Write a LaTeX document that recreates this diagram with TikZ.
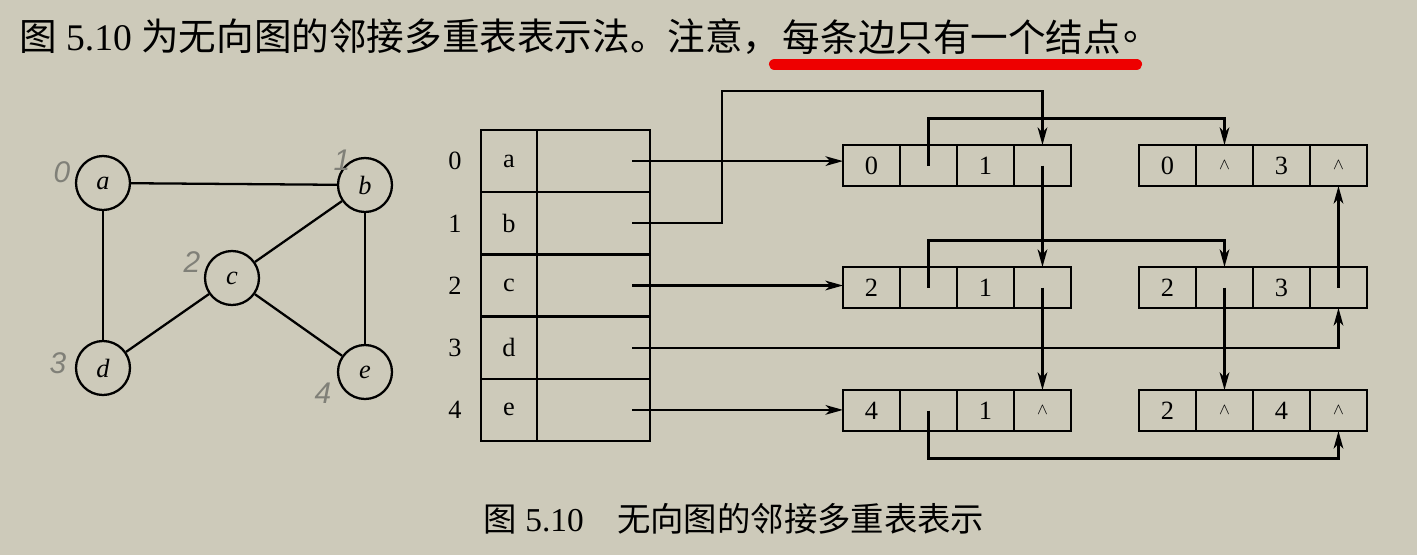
\documentclass[tikz,border=0pt]{standalone}
\usepackage{fontspec}
\setmainfont{Liberation Serif}
\newfontfamily\cjk{Noto Sans CJK SC}
\newfontfamily\hand{Liberation Sans}
\usetikzlibrary{arrows.meta,positioning}

\definecolor{paper}{RGB}{205,202,186}
\definecolor{pencil}{RGB}{128,128,120}
\definecolor{marker}{RGB}{238,0,0}
\newcommand\nullmark{{\small$\wedge$}}

\begin{document}
\begin{tikzpicture}[x=0.02cm,y=-0.02cm,line width=1.3pt,
  vertex/.style={draw,circle,minimum size=1.08cm,inner sep=0pt,font=\fontsize{15}{15}\selectfont\itshape},
  handnum/.style={text=pencil,font=\hand\fontsize{17}{17}\selectfont\itshape},
  cell/.style={draw,minimum height=1.244cm,inner sep=0pt,outer sep=0pt,font=\fontsize{15}{15}\selectfont},
  field/.style={draw,minimum width=1.14cm,minimum height=0.82cm,inner sep=0pt,outer sep=0pt,font=\fontsize{15}{15}\selectfont},
  link/.style={-{Stealth[length=10pt,width=5.5pt,inset=2.8pt]}},
  underline/.style={marker,line width=6.5pt,line cap=round}]

  % paper
  \fill[paper] (0,0) rectangle (1417,555);

  % heading line
  \node[anchor=west,inner sep=0pt,font=\fontsize{21.4}{21.4}\selectfont] (intro) at (18,37)
    {{\cjk 图} 5.10 {\cjk 为无向图的邻接多重表表示法。注意，}};
  \node[right=0pt of intro,inner sep=0pt,font=\fontsize{21.4}{21.4}\selectfont] (note) {\cjk 每条边只有一个结点};
  \node[right=0pt of note,inner sep=0pt,font=\fontsize{21.4}{21.4}\selectfont] (stop) {\cjk 。};
  \draw[underline] ([xshift=-4pt,yshift=-5pt]note.south west) -- ([xshift=8pt,yshift=-5pt]note.south east);

  % the graph
  \node[vertex] (a) at (103,183) {a};
  \node[vertex] (b) at (365,185) {b};
  \node[vertex] (c) at (232,278) {c};
  \node[vertex] (d) at (103,368) {d};
  \node[vertex] (e) at (365,372) {e};
  \foreach \u/\v in {a/b,a/d,b/c,b/e,c/d,c/e}
    \draw (\u) -- (\v);

  % pencil numbers
  \foreach \n/\x/\y in {0/62/172,1/342/160,2/192/262,3/58/363,4/323/393}
    \node[handnum] (h\n) at (\x,\y) {\n};

  % vertex table
  \def\rowH{62.2}
  \foreach \v [count=\i from 0] in {a,b,c,d,e} {
    \node[cell,minimum width=1.12cm] (v\i) at (509,161.1+\rowH*\i) {\v};
    \node[cell,minimum width=2.26cm] (f\i) at (593.5,161.1+\rowH*\i) {};
    \node[font=\fontsize{15}{15}\selectfont] (i\i) at (455,161.1+\rowH*\i) {\i};
    \coordinate (s\i) at (632,161.1+\rowH*\i);
  }

  % edge nodes: ivex, ilink, jvex, jlink
  \foreach \name/\x/\y/\fa/\fb/\fc/\fd in {
      p01/843/145/0//1/, p03/1139/145/0/\nullmark/3/\nullmark,
      p21/843/267/2//1/, p23/1139/267/2//3/,
      p41/843/390/4//1/\nullmark, p24/1139/390/2/\nullmark/4/\nullmark} {
    \node[field] (\name-1) at (\x+28.5,\y+20.5) {\fa};
    \node[field,right=0pt of \name-1] (\name-2) {\fb};
    \node[field,right=0pt of \name-2] (\name-3) {\fc};
    \node[field,right=0pt of \name-3] (\name-4) {\fd};
  }

  % firstedge pointers
  \draw[link] (s0) -- (s0 -| p01-1.west);
  \draw[link] (s1) -- ++(90,0) -- ++(0,-132) -| (p01-4.north);
  \draw[link] (s2) -- (s2 -| p21-1.west);
  \draw[link] (s3) -| (p23-4.south);
  \draw[link] (s4) -- (s4 -| p41-1.west);

  % ilink / jlink pointers
  \draw[link] (p01-2.center) -- ++(0,-47) -| (p03-2.north);
  \draw[link] (p01-4.center) -- (p21-4.north);
  \draw[link] (p21-2.center) -- ++(0,-47) -| (p23-2.north);
  \draw[link] (p21-4.center) -- (p41-4.north);
  \draw[link] (p23-2.center) -- (p24-2.north);
  \draw[link] (p23-4.center) -- (p03-4.south);
  \draw[link] (p41-2.center) -- ++(0,48) -| (p24-4.south);

  % caption
  \node[font=\fontsize{19}{19}\selectfont] (caption) at (734,519)
    {{\cjk 图} 5.10\quad{\cjk 无向图的邻接多重表表示}};
\end{tikzpicture}
\end{document}
